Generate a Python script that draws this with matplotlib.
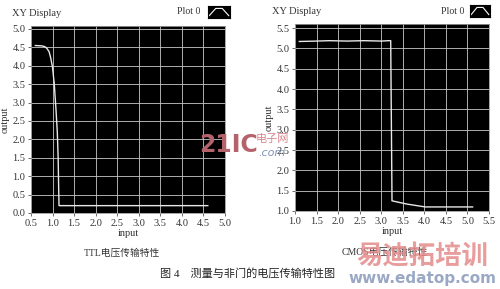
import matplotlib
matplotlib.use("Agg")
import matplotlib.pyplot as plt

plt.rcParams['font.family'] = ['Liberation Serif', 'Noto Sans CJK SC']

# TTL transfer characteristic
ttl_x = [0.60, 0.75, 0.82, 0.87, 0.92, 0.96, 1.00, 1.04, 1.08, 1.11, 1.13, 1.14, 1.15, 4.60]
ttl_y = [4.55, 4.54, 4.52, 4.47, 4.38, 4.20, 3.95, 3.50, 2.80, 2.20, 1.50, 0.80, 0.20, 0.20]

# CMOS transfer characteristic
cmos_x = [1.10, 1.50, 1.80, 2.20, 2.60, 3.00, 3.18, 3.22, 3.25, 3.60, 4.02, 5.12]
cmos_y = [5.17, 5.18, 5.19, 5.18, 5.19, 5.18, 5.19, 5.19, 1.25, 1.17, 1.10, 1.10]

ttl_xticks = [0.5, 1.0, 1.5, 2.0, 2.5, 3.0, 3.5, 4.0, 4.5, 5.0]
ttl_yticks = [0.0, 0.5, 1.0, 1.5, 2.0, 2.5, 3.0, 3.5, 4.0, 4.5, 5.0]
cmos_xticks = [1.0, 1.5, 2.0, 2.5, 3.0, 3.5, 4.0, 4.5, 5.0, 5.5]
cmos_yticks = [1.0, 1.5, 2.0, 2.5, 3.0, 3.5, 4.0, 4.5, 5.0, 5.5]

icon_x = [0, 1, 2, 3]
icon_y = [0.2, 0.8, 0.8, 0.2]

W, H = 500, 289
fig = plt.figure(figsize=(5.0, 2.89), dpi=100)
fig.patch.set_facecolor('white')

def px(x0, y0, x1, y1):
    return [x0 / W, 1 - y1 / H, (x1 - x0) / W, (y1 - y0) / H]

txt = '#333333'

def setup(ax, xt, yt, xlim, ylim):
    ax.set_facecolor('black')
    ax.set_xlim(*xlim)
    ax.set_ylim(*ylim)
    ax.set_xticks(xt)
    ax.set_yticks(yt)
    ax.set_xticklabels([f"{v:.1f}" for v in xt])
    ax.set_yticklabels([f"{v:.1f}" for v in yt])
    ax.tick_params(labelsize=7.5, colors=txt, length=2, width=0.5, pad=2)
    ax.grid(True, color='#c8c8c8', lw=0.6)
    for s in ax.spines.values():
        s.set_color('#999999')
        s.set_linewidth(0.6)
    ax.set_xlabel('input', fontsize=7.5, color=txt, labelpad=1)
    ax.set_ylabel('output', fontsize=7.5, color=txt, labelpad=2)

ax1 = fig.add_axes(px(31, 26, 225, 213))
setup(ax1, ttl_xticks, ttl_yticks, (0.5, 5.0), (0.0, 5.08))
ax1.plot(ttl_x, ttl_y, color='#e8e8e8', lw=1.0)

ax2 = fig.add_axes(px(295, 24, 489, 211))
setup(ax2, cmos_xticks, cmos_yticks, (1.0, 5.5), (1.0, 5.6))
ax2.plot(cmos_x, cmos_y, color='#e8e8e8', lw=1.0)

# titles and legends
fig.text(12 / W, 1 - 14 / H, 'XY Display', fontsize=7.5, color=txt, va='center')
fig.text(272 / W, 1 - 12 / H, 'XY Display', fontsize=7.5, color=txt, va='center')
fig.text(177 / W, 1 - 12 / H, 'Plot 0', fontsize=7, color=txt, va='center')
fig.text(441 / W, 1 - 11 / H, 'Plot 0', fontsize=7, color=txt, va='center')
for box in [px(208, 6, 230, 18), px(470, 5, 490, 17)]:
    ia = fig.add_axes(box)
    ia.set_facecolor('black')
    ia.plot(icon_x, icon_y, color='white', lw=0.8)
    ia.set_xlim(-0.2, 3.2)
    ia.set_ylim(0, 1)
    ia.set_xticks([])
    ia.set_yticks([])

# captions
fig.text(122 / W, 1 - 253 / H, 'TTL电压传输特性', fontsize=7, color=txt, ha='center', va='center')
fig.text(385 / W, 1 - 252 / H, 'CMOS电压传输特性', fontsize=7, color=txt, ha='center', va='center')
fig.text(248 / W, 1 - 273 / H, '图 4    测量与非门的电压传输特性图', fontsize=8, color='#222222', ha='center', va='center')

# watermarks
fig.text(199 / W, 1 - 145 / H, '21IC', fontsize=17, fontweight='bold', color='#b5636b',
         family=['DejaVu Sans'], va='center', ha='left')
fig.text(256 / W, 1 - 139 / H, '电子网', fontsize=8, color='#d9868c', va='center', ha='left')
fig.text(258 / W, 1 - 153 / H, '.com', fontsize=8, color='#7f93b5', style='italic',
         family=['DejaVu Sans'], va='center', ha='left')
fig.text(422 / W, 1 - 257 / H, '易迪拓培训', fontsize=19, fontweight='bold', color='#e58c8c',
         va='center', ha='center', alpha=0.85)
fig.text(422 / W, 1 - 279 / H, 'www.edatop.com', fontsize=11, fontweight='bold', color='#8f9fbf',
         family=['DejaVu Sans'], va='center', ha='center', alpha=0.9)

fig.savefig('out.png', dpi=100, facecolor='white')
